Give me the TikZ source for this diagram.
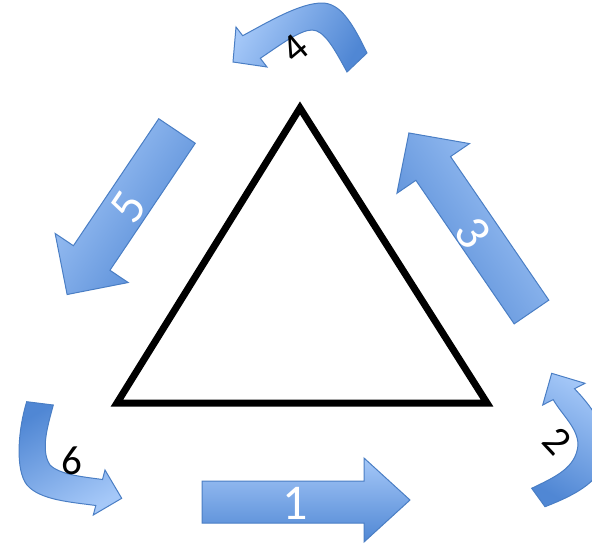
\documentclass[tikz,border=0pt]{standalone}
\usepackage{fontspec}
\setmainfont{Carlito}
\definecolor{alight}{RGB}{165,200,248}
\definecolor{adark}{RGB}{80,135,212}
\definecolor{aline}{RGB}{74,126,196}
\tikzset{
  arr/.style={draw=aline, line width=1pt, line join=miter},
  lblw/.style={text=white, font=\fontsize{50}{50}\selectfont, inner sep=0pt},
  lblb/.style={text=black, font=\fontsize{41}{41}\selectfont, inner sep=0pt},
  tri/.style={draw=black, line width=7pt, line join=miter}
}
\begin{document}
\begin{tikzpicture}[x=1pt,y=-1pt]
\useasboundingbox (0,0) rectangle (592,550);

% triangle
\coordinate (ta) at (300,108);
\coordinate (tb) at (117,403);
\coordinate (tc) at (487,403);
\draw[tri] (ta) -- (tb) -- (tc) -- cycle;

% arrow 1 (straight, right)
\shade[arr, top color=alight, bottom color=adark]
  (202,481) -- (364,481) -- (364,458) -- (410,500) -- (364,542) -- (364,523) -- (202,523) -- cycle;

% arrow 5 (straight, down-left)
\begin{scope}[shift={(177,131)}, rotate=236.1]
  \coordinate (f1) at (0,-22);  \coordinate (f2) at (153,-22);
  \coordinate (f3) at (153,-44); \coordinate (f4) at (197,0);
  \coordinate (f5) at (153,44);  \coordinate (f6) at (153,22);
  \coordinate (f7) at (0,22);
\end{scope}
\shade[arr, top color=alight, bottom color=adark, shading angle=56]
  (f1) -- (f2) -- (f3) -- (f4) -- (f5) -- (f6) -- (f7) -- cycle;

% arrow 3 (straight, up-left)
\begin{scope}[shift={(531.5,312)}, rotate=124.4]
  \coordinate (t1) at (0,-21);  \coordinate (t2) at (174,-21);
  \coordinate (t3) at (174,-44); \coordinate (t4) at (217,0);
  \coordinate (t5) at (174,44);  \coordinate (t6) at (174,21);
  \coordinate (t7) at (0,21);
\end{scope}
\shade[arr, top color=alight, bottom color=adark, shading angle=-56]
  (t1) -- (t2) -- (t3) -- (t4) -- (t5) -- (t6) -- (t7) -- cycle;

% curved arrow 4 (top)
\shade[arr, top color=alight, bottom color=adark, shading angle=60]
  (367,53) .. controls (352,22) and (340,3) .. (322,3)
  .. controls (300,3) and (268,22) .. (242.7,35.7)
  -- (236,27) -- (233,62) -- (267,67) -- (260.3,58.3)
  .. controls (280,45) and (300,30) .. (312,30)
  .. controls (324,30) and (334,48) .. (347,72) -- cycle;

% curved arrow 2 (right, clipped)
\begin{scope}
  \clip (0,0) rectangle (592,550);
  \shade[arr, top color=alight, bottom color=adark, shading angle=-30]
    (531.7,488.3) .. controls (555,477) and (576,468) .. (578,445)
    .. controls (578,428) and (562,415) .. (553.2,399.6)
    -- (542.7,405) -- (551.7,373.3) -- (585,383.3) -- (574.5,388.7)
    .. controls (590,405) and (606,425) .. (606,450)
    .. controls (606,480) and (575,495) .. (545,506.7) -- cycle;
\end{scope}

% curved arrow 6 (bottom left)
\shade[arr, top color=alight, bottom color=adark, shading angle=-150]
  (53.3,405) .. controls (48,425) and (40,450) .. (50,465)
  .. controls (60,475) and (85,477) .. (102.5,479.5)
  -- (105,470) -- (121.7,498.3) -- (93.3,515) -- (95.8,505.5)
  .. controls (70,502) and (40,500) .. (27,485)
  .. controls (15,470) and (18,430) .. (26.7,401.7) -- cycle;

% labels
\node[lblw] (l1) at (295,503) {1};
\node[lblw, rotate=56.1] (l5) at (128,207) {5};
\node[lblw, rotate=-55.6] (l3) at (473,233) {3};
\node[lblb, rotate=40] (l4) at (295,49) {4};
\node[lblb, rotate=-47] (l2) at (557,441) {2};
\node[lblb] (l6) at (72,461) {6};
\end{tikzpicture}
\end{document}
